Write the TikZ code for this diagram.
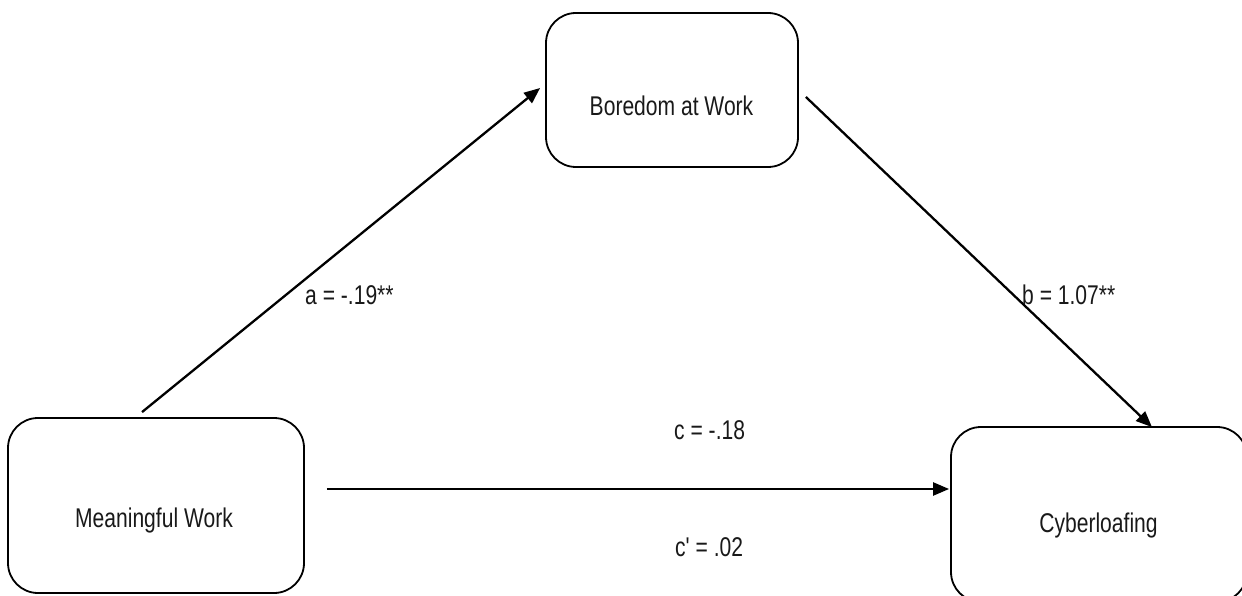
\documentclass[tikz,border=0pt]{standalone}
\usepackage{fontspec}
\setmainfont{Liberation Sans}
\usetikzlibrary{arrows.meta,calc}
\newcommand{\tall}[1]{\scalebox{0.98}[1.26]{#1}}
\tikzset{
  box/.style={draw=black, line width=1.8pt, rounded corners=30pt, inner sep=0pt},
  lbl/.style={font=\fontsize{21.5}{24}\selectfont, inner sep=0pt, text=black!90},
  arr/.style={line width=2.3pt, -{Triangle[length=16pt,width=13pt]}}
}
\begin{document}
\begin{tikzpicture}[x=1pt,y=-1pt]
\useasboundingbox (0,0) rectangle (1242,596);
\begin{scope}
\clip (0,0) rectangle (1242,596);
\node[box, minimum width=296pt, minimum height=175pt] (mw) at (156,505.5) {};
\node[box, minimum width=252pt, minimum height=154pt] (bw) at (672,90) {};
\node[box, minimum width=296pt, minimum height=175pt] (cy) at (1099,514.5) {};
\end{scope}
\node[lbl, anchor=base] (mwt) at (154,527) {\tall{Meaningful Work}};
\node[lbl, anchor=base] (bwt) at (671.5,116) {\tall{Boredom at Work}};
\node[lbl, anchor=base] (cyt) at (1098.5,532) {\tall{Cyberloafing}};
\draw[arr] ([shift={(-14,-5)}]mw.north) -- ([shift={(-5,-2)}]bw.west);
\draw[arr] ([shift={(7,7)}]bw.east) -- ([shift={(53,1)}]cy.north);
\draw[arr] ([shift={(22,-16.5)}]mw.east) -- ([shift={(-1,-25.5)}]cy.west);
\node[lbl, anchor=base west] (la) at (305,304) {\tall{a = -.19**}};
\node[lbl, anchor=base west] (lb) at (1022,304) {\tall{b = 1.07**}};
\node[lbl, anchor=base west] (lc) at (674,439) {\tall{c = -.18}};
\node[lbl, anchor=base west] (lcp) at (675,556) {\tall{c\textquotesingle\ = .02}};
\end{tikzpicture}
\end{document}
